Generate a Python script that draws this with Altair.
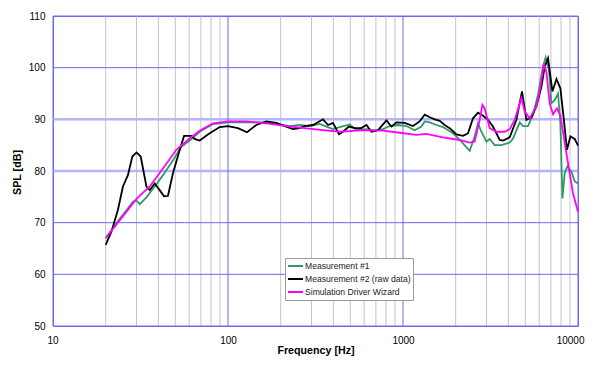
import altair as alt
import pandas as pd

# ---- data (frequency in Hz, SPL in dB) ----
m1_freq = [20, 23.0, 26.8, 28.7, 30, 31.3, 34.2, 38.1, 42.5, 48.5, 54.2, 60.4, 68.9, 82.1, 100,
           127, 158.5, 189, 225, 257, 293, 334, 365, 398, 435, 496, 542, 618, 689, 769, 840, 936,
           1045, 1166, 1274, 1331, 1422, 1552, 1693, 1931, 2157, 2405, 2569, 2683, 2805, 2997,
           3129, 3342, 3650, 4071, 4254, 4645, 4853, 5178, 5534, 5905, 6310, 6534, 6826, 7046,
           7362, 7690, 7930, 8147, 8395, 8695, 9165, 9575, 10000]
m1_spl = [67.0, 69.9, 72.8, 74.1, 74.3, 73.6, 74.9, 77.0, 79.2, 82.1, 84.7, 85.9, 87.6, 89.1, 89.4,
          89.4, 89.4, 89.1, 88.7, 88.9, 88.7, 89.1, 88.6, 88.1, 88.5, 89.0, 87.9, 88.1, 87.8, 88.1,
          88.7, 88.9, 88.7, 87.9, 88.6, 89.6, 89.4, 88.9, 88.5, 87.3, 85.7, 83.9, 86.7, 89.2, 87.6,
          85.7, 86.2, 85.0, 85.0, 85.5, 86.3, 89.4, 88.7, 88.7, 90.9, 94.7, 100.2, 102.0, 99.6,
          93.1, 93.7, 95.0, 89.2, 74.7, 79.6, 80.9, 79.9, 78.0, 77.6]

m2_freq = [20, 21.6, 23.5, 25.1, 26.8, 28.4, 30, 31.7, 34.2, 35.7, 38.1, 40.7, 43.1, 45.4, 48.5,
           53, 56.1, 61.8, 64.5, 68.9, 78.6, 89.7, 100, 114, 128.4, 145, 165.6, 189, 211, 235,
           257, 274, 306, 349, 373, 398, 431, 454, 491, 530, 578, 618, 660, 720, 804, 859, 917,
           1023, 1140, 1245, 1331, 1422, 1518, 1621, 1730, 1849, 2018, 2203, 2352, 2512, 2683,
           2865, 3060, 3268, 3570, 3728, 4071, 4446, 4786, 5072, 5416, 5784, 6178, 6456, 6742,
           7140, 7533, 7930, 8285, 8650, 9050, 9575, 10000]
m2_spl = [65.7, 68.3, 72.5, 77.0, 79.2, 82.8, 83.6, 82.8, 77.0, 76.3, 77.6, 76.3, 75.1, 75.2, 79.6,
          84.1, 86.8, 86.8, 86.2, 85.9, 87.3, 88.5, 88.7, 88.3, 87.5, 88.9, 89.6, 89.3, 88.7, 88.1,
          88.3, 88.7, 88.9, 90.0, 88.9, 89.3, 87.1, 87.6, 88.6, 88.3, 88.3, 88.9, 87.6, 87.9, 89.8,
          88.6, 89.4, 89.3, 88.7, 89.6, 90.9, 90.4, 90.0, 89.7, 88.9, 88.3, 87.1, 86.8, 87.3,
          90.2, 91.3, 90.7, 89.9, 88.6, 86.0, 85.9, 86.5, 89.9, 95.4, 89.9, 90.4, 92.5, 96.3,
          100.2, 101.8, 95.4, 97.8, 96.0, 90.2, 84.1, 86.7, 86.2, 84.9]

sim_freq = [20, 30, 35.7, 42.5, 50.7, 60.4, 68.9, 82.1, 100, 127, 165.6, 216, 257, 349, 435, 542,
            618, 769, 958, 1194, 1361, 1693, 2109, 2405, 2569, 2743, 2843, 2930, 3129, 3418, 3811,
            4071, 4348, 4750, 4958, 5297, 5784, 6095, 6370, 6597, 6889, 7197, 7586, 7930, 8285,
            8770, 9360, 10000]
sim_spl = [67.0, 74.6, 77.0, 80.5, 84.1, 86.3, 87.8, 89.2, 89.6, 89.6, 89.2, 88.7, 88.4, 87.9,
           87.6, 87.8, 87.9, 87.8, 87.4, 87.0, 87.2, 86.5, 86.0, 85.5, 85.7, 89.9, 92.8, 92.1,
           88.3, 87.6, 87.6, 88.1, 89.9, 94.1, 91.5, 90.2, 92.5, 96.3, 100.8, 99.2, 93.1, 91.0,
           92.1, 90.8, 86.7, 81.5, 75.7, 72.1]

series_names = ["Measurement #1", "Measurement #2 (raw data)", "Simulation Driver Wizard"]
series_colors = ["#2f9a68", "#000000", "#ff00ff"]

x_ticks = [10, 100, 1000, 10000]
y_ticks = [50, 60, 70, 80, 90, 100, 110]
minor_grid = [m * 10 ** d for d in (1, 2, 3) for m in range(2, 10)]
major_grid = [10, 100, 1000, 10000]
h_grid = [50, 60, 70, 100, 110]
h_grid_light = [80, 90]

rows = []
for name, fs, ss in zip(series_names, [m1_freq, m2_freq, sim_freq], [m1_spl, m2_spl, sim_spl]):
    for i, (f, s) in enumerate(zip(fs, ss)):
        rows.append({"series": name, "freq": f, "spl": s, "i": i})
df = pd.DataFrame(rows)

BLUE = "#6a6af0"
xscale = alt.Scale(type="log", domain=[10, 10000], nice=False)
yscale = alt.Scale(domain=[50, 110], nice=False, zero=False)

x_axis = alt.Axis(title="Frequency [Hz]", values=x_ticks, format="d", grid=False,
                  ticks=False, domain=False, labelPadding=9, labelFlush=True,
                  labelFlushOffset=6, labelFontSize=10, labelColor="#000",
                  titleFontSize=10.7, titleFontWeight="bold", titleColor="#000",
                  titleY=27, titleBaseline="alphabetic")
y_axis = alt.Axis(title="SPL [dB]", values=y_ticks, grid=False, ticks=False,
                  domain=False, labelPadding=8, labelFontSize=10, labelColor="#000",
                  titleFontSize=10.7, titleFontWeight="bold", titleColor="#000",
                  titleX=-36, titleY=156, titleBaseline="middle", titleAlign="center")

minor = alt.Chart(pd.DataFrame({"freq": minor_grid})).mark_rule(color="#c4c4c4", strokeWidth=1).encode(
    x=alt.X("freq:Q", scale=xscale, axis=x_axis))
hlight = alt.Chart(pd.DataFrame({"spl": h_grid_light})).mark_rule(color="#b4b4ff", strokeWidth=2.5).encode(
    y=alt.Y("spl:Q", scale=yscale, axis=y_axis))
hmain = alt.Chart(pd.DataFrame({"spl": h_grid})).mark_rule(color=BLUE, strokeWidth=1).encode(
    y=alt.Y("spl:Q", scale=yscale, axis=y_axis))
major = alt.Chart(pd.DataFrame({"freq": major_grid})).mark_rule(color=BLUE, strokeWidth=1).encode(
    x=alt.X("freq:Q", scale=xscale, axis=x_axis))

lines = alt.Chart(df).mark_line(strokeWidth=1.8).encode(
    x=alt.X("freq:Q", scale=xscale, axis=x_axis),
    y=alt.Y("spl:Q", scale=yscale, axis=y_axis),
    color=alt.Color("series:N", scale=alt.Scale(domain=series_names, range=series_colors),
                    legend=alt.Legend(title=None, orient="none", legendX=232, legendY=242,
                                      symbolType="stroke", symbolSize=225, symbolStrokeWidth=2,
                                      labelFontSize=8.6, labelColor="#222", labelOffset=1,
                                      clipHeight=12, rowPadding=1, padding=2,
                                      fillColor="#ffffff", strokeColor="#999999")),
    order="i:Q",
)

chart = alt.layer(minor, hlight, hmain, major, lines).properties(
    width=525, height=310,
    autosize=alt.AutoSizeParams(type="none"),
    padding={"left": 45, "top": 8, "right": 7, "bottom": 30},
).configure(font="Liberation Sans").configure_view(stroke=BLUE, strokeWidth=1)

chart.save("out.html", embed_options={"renderer": "svg", "actions": False})
